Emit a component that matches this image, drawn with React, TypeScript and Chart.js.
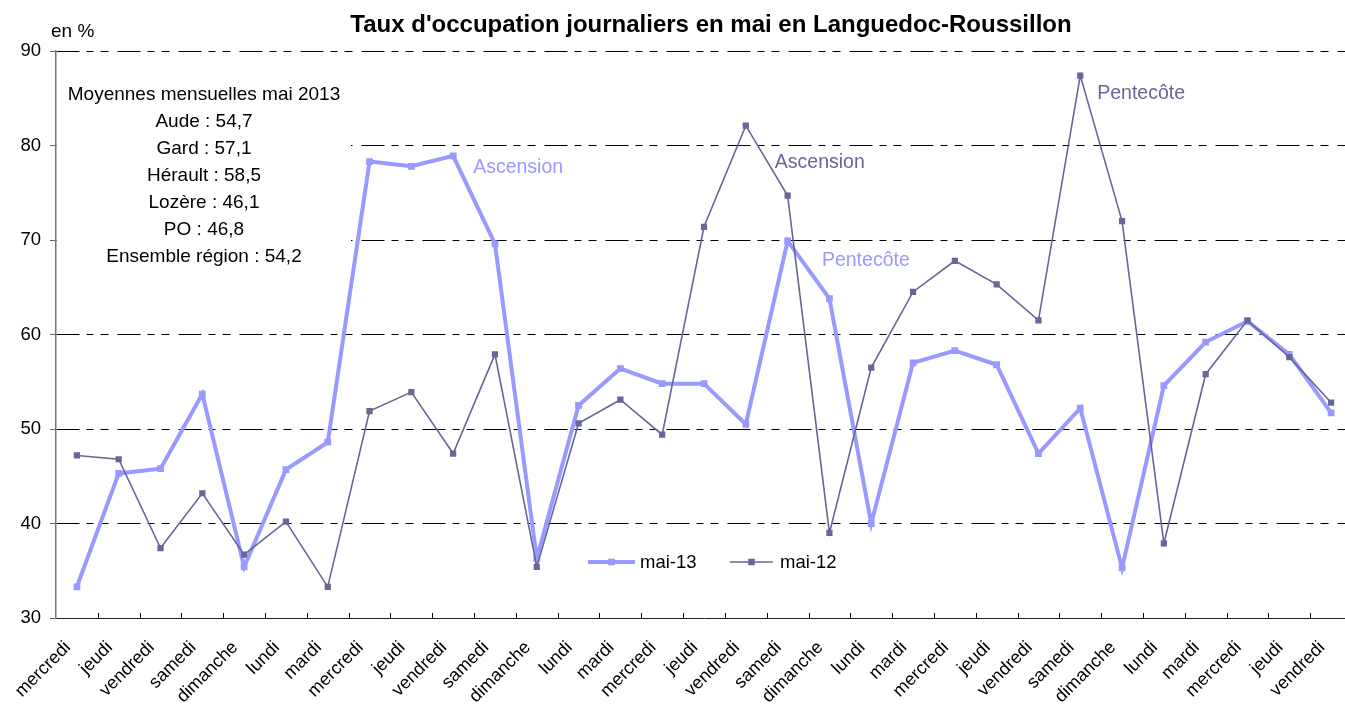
import React, { useEffect, useRef } from "react";
import { Chart, registerables } from "chart.js";

Chart.register(...registerables);

const FONT = '"Liberation Sans", Arial, Helvetica, sans-serif';

// ---------- data ----------
const days = [
  "mercredi", "jeudi", "vendredi", "samedi", "dimanche", "lundi", "mardi",
  "mercredi", "jeudi", "vendredi", "samedi", "dimanche", "lundi", "mardi",
  "mercredi", "jeudi", "vendredi", "samedi", "dimanche", "lundi", "mardi",
  "mercredi", "jeudi", "vendredi", "samedi", "dimanche", "lundi", "mardi",
  "mercredi", "jeudi", "vendredi",
];

const mai13 = [
  33.3, 45.3, 45.8, 53.7, 35.4, 45.7, 48.6, 78.3, 77.8, 78.9, 69.6, 36.3,
  52.5, 56.4, 54.8, 54.8, 50.5, 69.9, 63.8, 40.0, 57.0, 58.3, 56.8, 47.4,
  52.2, 35.3, 54.6, 59.2, 61.4, 57.9, 51.7,
];

const mai12 = [
  47.2, 46.8, 37.4, 43.2, 36.7, 40.2, 33.3, 51.9, 53.9, 47.4, 57.9, 35.4,
  50.6, 53.1, 49.4, 71.4, 82.1, 74.7, 39.0, 56.5, 64.5, 67.8, 65.3, 61.5,
  87.4, 72.0, 37.9, 55.8, 61.5, 57.6, 52.8,
];

const seriesNames = ["mai-13", "mai-12"];
const yMin = 30;
const yMax = 90;
const yStep = 10;

const chartTitle = "Taux d'occupation journaliers en mai en Languedoc-Roussillon";
const unitLabel = "en %";
const averagesHeading = "Moyennes mensuelles mai 2013";
const averageNames = ["Aude", "Gard", "Hérault", "Lozère", "PO", "Ensemble région"];
const averageValues = ["54,7", "57,1", "58,5", "46,1", "46,8", "54,2"];

// holiday notes: text, series index, day index of the anchoring point
const noteTexts = ["Ascension", "Ascension", "Pentecôte", "Pentecôte"];
const noteSeries = [0, 1, 0, 1];
const noteDays = [9, 16, 18, 24];

// ---------- styles ----------
const LIGHT = "#9999FF";
const DARK = "#666699";
const seriesColors = [LIGHT, DARK];
const seriesWidths = [4, 1.6];
const seriesRadius = [4.8, 4.4];

// offsets of the holiday notes relative to their anchor point (px)
const noteOffsets = [
  [20, 17],
  [29, 42],
  [-7.5, -33],
  [17, 23],
];

const CANVAS_W = 1372;
const CANVAS_H = 704;

const overlayPlugin = {
  id: "overlay",
  beforeDatasetsDraw(chart: any) {
    const { ctx } = chart;
    ctx.save();
    // white box behind the averages text
    ctx.fillStyle = "#ffffff";
    ctx.fillRect(57, 76, 294, 190);
    ctx.fillStyle = "#000";
    ctx.font = `19px ${FONT}`;
    ctx.textAlign = "center";
    ctx.textBaseline = "alphabetic";
    const cx = 204;
    ctx.fillText(averagesHeading, cx, 100);
    averageNames.forEach((n, i) => {
      ctx.fillText(`${n} : ${averageValues[i]}`, cx, 127 + i * 27);
    });
    ctx.restore();
  },
  afterDraw(chart: any) {
    const { ctx, chartArea } = chart;
    const xs = chart.scales.x;
    const ys = chart.scales.y;
    ctx.save();

    // inward tick marks on the category axis
    const n = days.length;
    const cell = (xs.right - xs.left) / n;
    ctx.strokeStyle = "#000";
    ctx.lineWidth = 1;
    ctx.beginPath();
    for (let i = 1; i <= n; i++) {
      const x = Math.round(xs.left + i * cell) + 0.5;
      ctx.moveTo(x, chartArea.bottom);
      ctx.lineTo(x, chartArea.bottom - 5);
    }
    ctx.stroke();

    // title
    ctx.fillStyle = "#000";
    ctx.font = `bold 24px ${FONT}`;
    ctx.textAlign = "center";
    ctx.textBaseline = "alphabetic";
    ctx.fillText(chartTitle, 711, 32);

    // unit
    ctx.font = `19px ${FONT}`;
    ctx.textAlign = "left";
    ctx.fillText(unitLabel, 51, 37);

    // holiday notes
    ctx.font = `19.5px ${FONT}`;
    noteTexts.forEach((t, k) => {
      const s = noteSeries[k];
      const d = noteDays[k];
      const v = (s === 0 ? mai13 : mai12)[d];
      const px = xs.getPixelForValue(d);
      const py = ys.getPixelForValue(v);
      ctx.fillStyle = seriesColors[s];
      ctx.fillText(t, px + noteOffsets[k][0], py + noteOffsets[k][1]);
    });

    // legend
    const legendY = 562;
    const items = [
      { x0: 588, x1: 635, tx: 640 },
      { x0: 730, x1: 773, tx: 780 },
    ];
    ctx.font = `18.5px ${FONT}`;
    ctx.textBaseline = "middle";
    items.forEach((it, i) => {
      ctx.strokeStyle = seriesColors[i];
      ctx.lineWidth = seriesWidths[i];
      ctx.beginPath();
      ctx.moveTo(it.x0, legendY);
      ctx.lineTo(it.x1, legendY);
      ctx.stroke();
      const mx = (it.x0 + it.x1) / 2;
      const side = 6.5;
      ctx.fillStyle = seriesColors[i];
      ctx.fillRect(mx - side / 2, legendY - side / 2, side, side);
      ctx.fillStyle = "#000";
      ctx.fillText(seriesNames[i], it.tx, legendY + 1);
    });

    ctx.restore();
  },
};

export default function App() {
  const ref = useRef<HTMLCanvasElement | null>(null);

  useEffect(() => {
    if (!ref.current) return;
    Chart.defaults.font.family = FONT;
    const chart = new Chart(ref.current, {
      type: "line",
      data: {
        labels: days,
        datasets: [
          {
            label: seriesNames[0],
            data: mai13,
            borderColor: LIGHT,
            backgroundColor: LIGHT,
            borderWidth: seriesWidths[0],
            pointStyle: "rect",
            pointRadius: seriesRadius[0],
            pointBorderWidth: 0,
            pointBackgroundColor: LIGHT,
            tension: 0,
            order: 2,
          },
          {
            label: seriesNames[1],
            data: mai12,
            borderColor: DARK,
            backgroundColor: DARK,
            borderWidth: seriesWidths[1],
            pointStyle: "rect",
            pointRadius: seriesRadius[1],
            pointBorderWidth: 0,
            pointBackgroundColor: DARK,
            tension: 0,
            order: 1,
          },
        ],
      },
      options: {
        responsive: false,
        animation: false,
        devicePixelRatio: 1,
        layout: { padding: { left: 0, top: 51, right: CANVAS_W - 1352, bottom: 0 } },
        plugins: {
          legend: { display: false },
          title: { display: false },
          tooltip: { enabled: false },
        },
        scales: {
          x: {
            type: "category",
            offset: true,
            grid: { display: false, drawTicks: false },
            border: { display: true, color: "#222", width: 1 },
            ticks: {
              autoSkip: false,
              maxRotation: 45,
              minRotation: 45,
              padding: 19,
              labelOffset: -9,
              color: "#000",
              font: { size: 18, family: FONT },
            },
            afterFit: (s: any) => {
              s.height = CANVAS_H - 618;
            },
          },
          y: {
            min: yMin,
            max: yMax,
            ticks: {
              stepSize: yStep,
              padding: 9,
              color: "#000",
              font: { size: 18.5, family: FONT },
            },
            grid: {
              color: "#000",
              lineWidth: 1,
              drawTicks: true,
              tickLength: 6,
              tickColor: "#666",
            },
            border: { display: true, color: "#777", width: 1.5, dash: [23, 7, 7, 7, 8, 9] },
            afterFit: (s: any) => {
              s.width = 56;
            },
          },
        },
      },
      plugins: [overlayPlugin],
    } as any);
    return () => chart.destroy();
  }, []);

  return (
    <div
      style={{
        position: "fixed",
        left: 0,
        top: 0,
        width: 1345,
        height: 704,
        overflow: "hidden",
        background: "#fff",
      }}
    >
      <canvas
        ref={ref}
        width={CANVAS_W}
        height={CANVAS_H}
        style={{ width: CANVAS_W, height: CANVAS_H, display: "block" }}
      />
    </div>
  );
}
